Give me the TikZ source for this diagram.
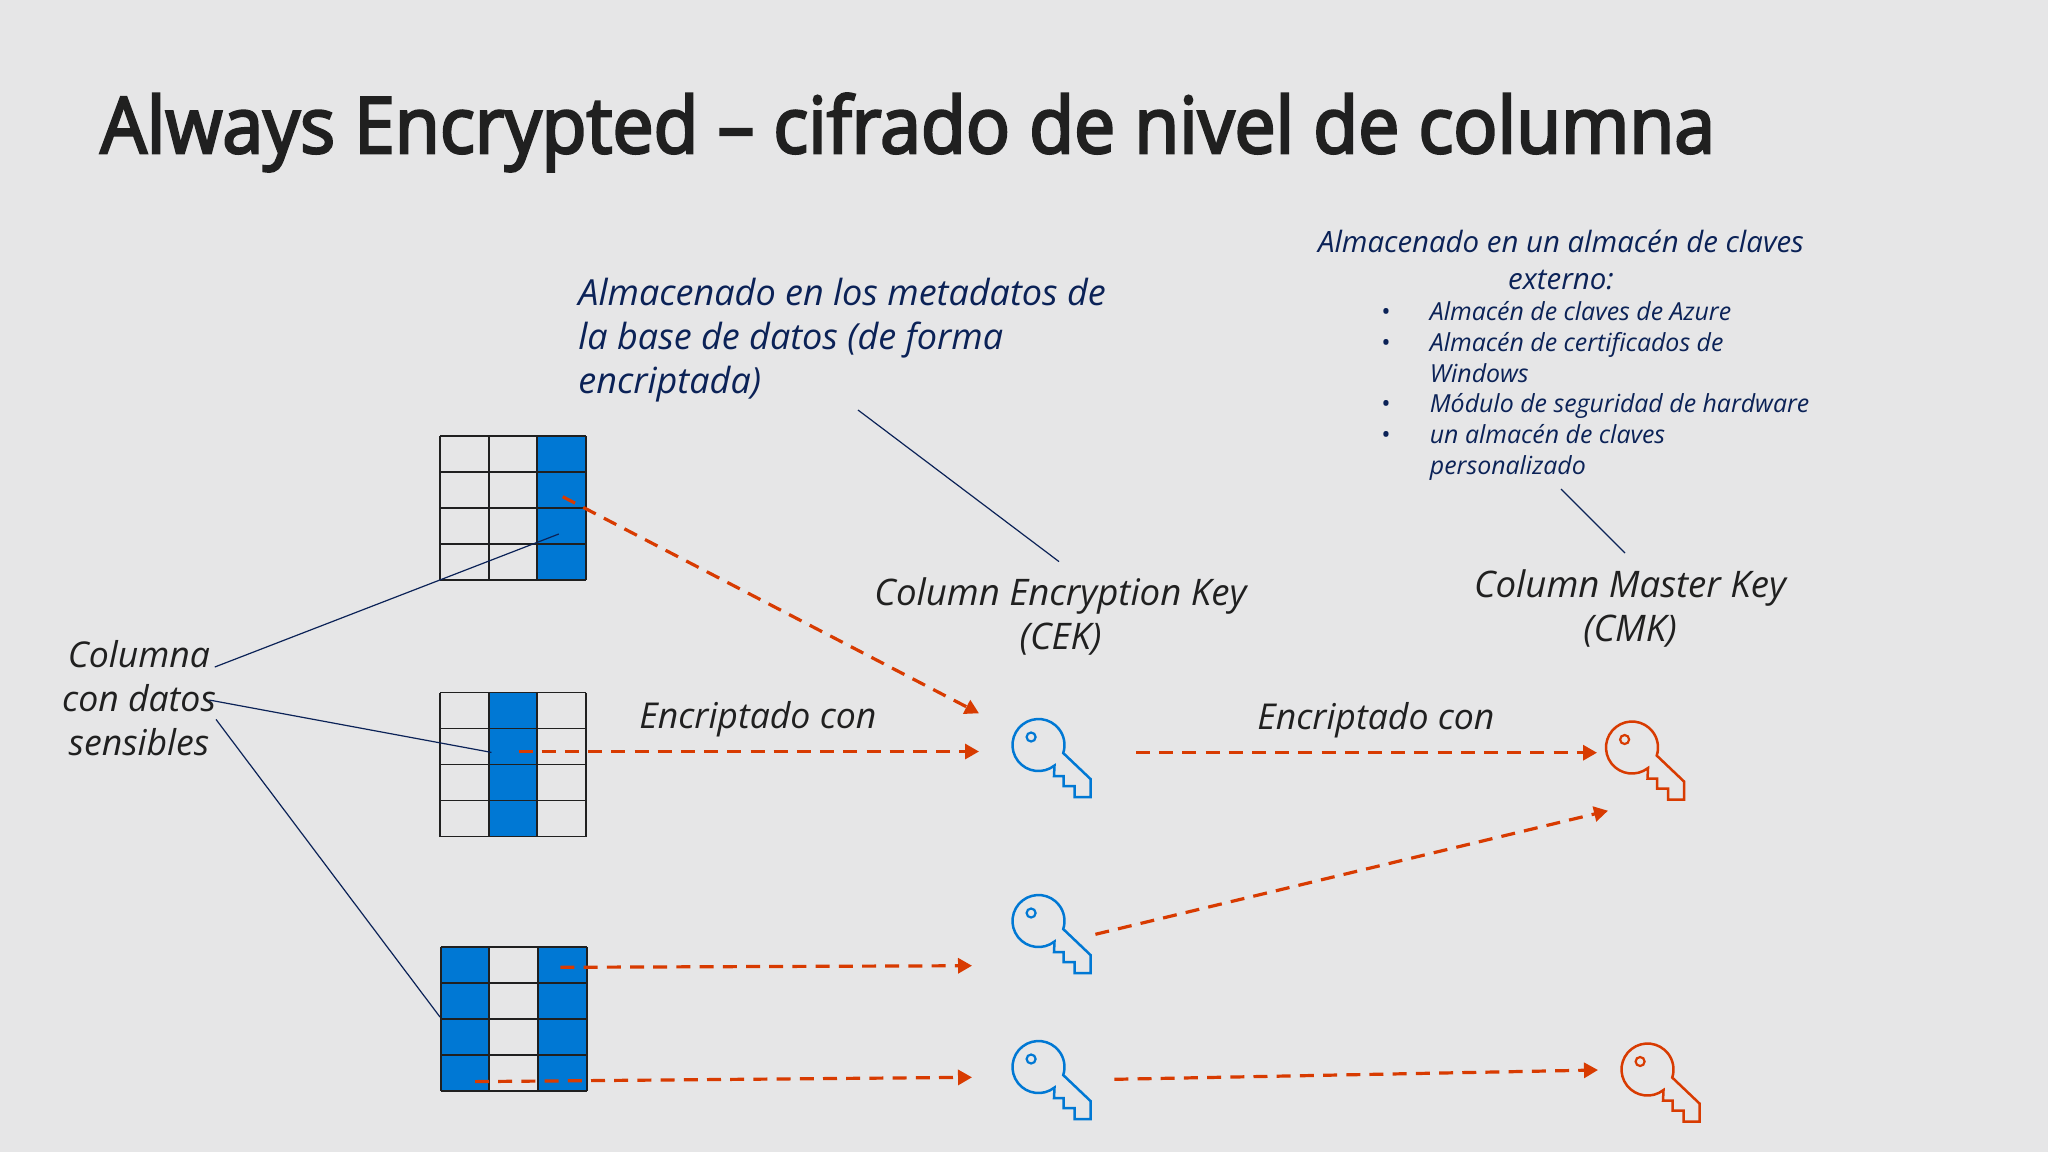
\documentclass[tikz,border=0pt]{standalone}
\usepackage{fontspec}
\setmainfont{Open Sans}
\newfontfamily\titlefont[FakeBold=3.2,FakeStretch=0.94]{Open Sans}
\usetikzlibrary{arrows.meta}
\definecolor{slidebg}{HTML}{E6E6E7}
\definecolor{cellblue}{HTML}{0078D4}
\definecolor{keyorange}{HTML}{D83B01}
\definecolor{notenavy}{HTML}{0B2257}
\definecolor{inkdark}{HTML}{202020}
\tikzset{
    gridline/.style={draw=inkdark,line width=0.95pt},
    leader/.style={draw=notenavy,line width=0.6pt},
    encarrow/.style={draw=keyorange,line width=1.6pt,dash pattern=on 7pt off 4.6pt,
        -{Triangle[length=7pt,width=7.5pt,fill=keyorange]}},
    midtext/.style={font=\fontsize{17.8}{22}\selectfont\itshape,text=inkdark,inner sep=0pt},
    keylabel/.style={midtext,font=\fontsize{18.3}{22}\selectfont\itshape},
    pics/keyicon/.style={code={
        \draw[#1,line width=1.25pt,line join=miter] (42,47.5) arc[start angle=52,end angle=378,radius=26]
            -- (78,61) -- (78,79) -- (62,79) -- (62,68) -- (51,68) -- (51,58) -- (41.5,58) -- cycle;
        \draw[#1,line width=1.1pt] (18.6,19) circle[radius=4.5];
    }},
}
\newcommand{\datagrid}[3]{%
    \begin{scope}[shift={(#1,#2)}]
        \foreach \c in {#3} \fill[cellblue] (\c*48.7,0) rectangle ++(48.7,144);
        \foreach \c in {0,1,2,3} \draw[gridline] (\c*48.7,0) -- (\c*48.7,144);
        \foreach \r in {0,1,2,3,4} \draw[gridline] (0,\r*36) -- (146.1,\r*36);
    \end{scope}}
\begin{document}
\begin{tikzpicture}[x=0.5pt,y=0.5pt,yscale=-1]
    \fill[slidebg] (0,0) rectangle (2048,1152);
    \useasboundingbox (0,0) rectangle (2048,1152);
    % title
    \node[anchor=base west,inner sep=0pt,text=inkdark,font=\fontsize{39}{44}\selectfont\titlefont] (title) at (100,153)
        {Always Encrypted – cifrado de nivel de columna};
    % tables
    \datagrid{440}{436}{2}
    \datagrid{440}{692.5}{1}
    \datagrid{440.6}{947}{0,2}
    % notes
    \node[midtext,font=\fontsize{18}{22}\selectfont\itshape,text=notenavy,align=left,anchor=base west] (metaNote) at (578,393)
        {Almacenado en los metadatos de\\la base de datos (de forma\\encriptada)};
    \node[anchor=base,inner sep=0pt,text=notenavy,align=center,font=\fontsize{14.7}{18.5}\selectfont\itshape] (storeNote) at (1561,289)
        {Almacenado en un almacén de claves\\externo:};
    \node[anchor=north west,inner sep=0pt,text=notenavy,align=left,font=\fontsize{12.45}{15.4}\selectfont\itshape] (storeList) at (1380.5,301)
        {\makebox[24.5pt][l]{\textbullet}Almacén de claves de Azure\\
         \makebox[24.5pt][l]{\textbullet}Almacén de certificados de\\
         \makebox[24.5pt][l]{}Windows\\
         \makebox[24.5pt][l]{\textbullet}Módulo de seguridad de hardware\\
         \makebox[24.5pt][l]{\textbullet}un almacén de claves\\
         \makebox[24.5pt][l]{}personalizado};
    \node[keylabel,align=center,anchor=base] (cekLabel) at (1060.5,649) {Column Encryption Key\\(CEK)};
    \node[keylabel,align=center,anchor=base] (cmkLabel) at (1630,641) {Column Master Key\\(CMK)};
    \node[midtext,align=center,anchor=base] (colLabel) at (139,755) {Columna\\con datos\\sensibles};
    \node[midtext,anchor=base west] (encLabelA) at (639,728) {Encriptado con};
    \node[midtext,anchor=base west] (encLabelB) at (1257,729.5) {Encriptado con};
    % keys
    \pic[yscale=-1] at (1012.5,718) {keyicon=cellblue};
    \pic[yscale=-1] at (1012.5,894) {keyicon=cellblue};
    \pic[yscale=-1] at (1012.5,1040) {keyicon=cellblue};
    \pic[yscale=-1] at (1606,720.5) {keyicon=keyorange};
    \pic[yscale=-1] at (1621.5,1042.5) {keyicon=keyorange};
    % leader ends
    \coordinate (colA) at (214.8,667);
    \coordinate (colB) at (209.2,700);
    \coordinate (colC) at (216,719.4);
    \coordinate (gridA) at (558.8,534);
    \coordinate (gridB) at (491.5,752.4);
    \coordinate (gridC) at (440,1017);
    \coordinate (metaEnd) at (858,410);
    \coordinate (cekEnd) at (1059,561.6);
    \coordinate (storeEnd) at (1561,489);
    \coordinate (cmkEnd) at (1625,553);
    \draw[leader] (colA) -- (gridA);
    \draw[leader] (colB) -- (gridB);
    \draw[leader] (colC) -- (gridC);
    \draw[leader] (metaEnd) -- (cekEnd);
    \draw[leader] (storeEnd) -- (cmkEnd);
    % arrow ends
    \coordinate (srcA) at (562.7,496.7);
    \coordinate (dstA) at (979,713.3);
    \coordinate (srcB) at (518.5,751.5);
    \coordinate (dstB) at (979,751.5);
    \coordinate (srcC) at (560.4,967.3);
    \coordinate (dstC) at (972,965.7);
    \coordinate (srcD) at (475,1081.6);
    \coordinate (dstD) at (972,1077.3);
    \coordinate (srcE) at (1136,752.7);
    \coordinate (dstE) at (1597,752.7);
    \coordinate (srcF) at (1095.4,934.3);
    \coordinate (dstF) at (1608,810.7);
    \coordinate (srcG) at (1114.3,1079.3);
    \coordinate (dstG) at (1598,1070);
    \foreach \a in {A,B,C,D,E,F,G}
        \draw[encarrow] (src\a) -- (dst\a);
\end{tikzpicture}
\end{document}
